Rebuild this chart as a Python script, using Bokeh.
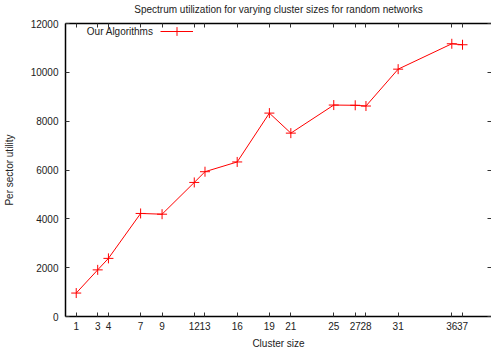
from bokeh.plotting import figure
from bokeh.models import (Range1d, LinearAxis, FixedTicker, Legend, LegendItem,
                          Label, CustomJSTickFormatter)
from bokeh.embed import file_html
from bokeh.resources import INLINE

# Spectrum utilization per sector, by cluster size
cluster_sizes = [1, 3, 4, 7, 9, 12, 13, 16, 19, 21, 25, 27, 28, 31, 36, 37]
utility = [960, 1910, 2380, 4220, 4190, 5490, 5930, 6330, 8330, 7510,
           8660, 8650, 8620, 10130, 11170, 11130]
y_ticks = [0, 2000, 4000, 6000, 8000, 10000, 12000]
chart_title = "Spectrum utilization for varying cluster sizes for random networks"

FONT = "Liberation Sans"
TXT = "#222222"
RED = "#ff0000"

p = figure(width=491, height=351, output_backend="svg", toolbar_location=None,
           x_range=Range1d(0, 39.7), y_range=Range1d(0, 12000),
           min_border_left=65, min_border_right=0, min_border_top=22,
           min_border_bottom=34,
           x_axis_label="Cluster size", y_axis_label="Per sector utility")

p.xgrid.visible = False
p.ygrid.visible = False
p.outline_line_color = None
p.background_fill_color = "white"


def style_axis(ax):
    ax.axis_line_color = "black"
    ax.axis_line_width = 1.5
    ax.major_tick_in = 4
    ax.major_tick_out = 0
    ax.major_tick_line_color = "#333333"
    ax.minor_tick_line_color = None
    ax.major_label_text_font = FONT
    ax.major_label_text_font_size = "10px"
    ax.major_label_text_color = TXT
    ax.axis_label_text_font = FONT
    ax.axis_label_text_font_size = "10px"
    ax.axis_label_text_font_style = "normal"
    ax.axis_label_text_color = TXT


xa = p.xaxis[0]
style_axis(xa)
xa.ticker = FixedTicker(ticks=cluster_sizes)
xa.major_label_standoff = 5
xa.axis_label_standoff = 5

ya = p.yaxis[0]
style_axis(ya)
ya.ticker = FixedTicker(ticks=y_ticks)
ya.major_label_standoff = 7
ya.axis_label_standoff = 13

# top border with mirrored ticks; the chart title sits above it
blank = CustomJSTickFormatter(code="return '';")

top = LinearAxis(ticker=FixedTicker(ticks=cluster_sizes), formatter=blank,
                 axis_label=chart_title)
style_axis(top)
top.major_label_standoff = 0
top.axis_label_standoff = 9
p.add_layout(top, "above")

right = LinearAxis(ticker=FixedTicker(ticks=y_ticks), formatter=blank)
style_axis(right)
right.axis_line_color = None
right.major_label_standoff = 0
p.add_layout(right, "right")

r_line = p.line(cluster_sizes, utility, line_color=RED, line_width=1)
r_pts = p.scatter(cluster_sizes, utility, marker="cross", size=10,
                  line_color=RED, line_width=1)

# key sample: line with marker, text placed to its left
legend = Legend(items=[LegendItem(label="", renderers=[r_line, r_pts])],
                location=(95, 274), orientation="vertical",
                border_line_color=None, background_fill_alpha=0,
                padding=0, margin=0, spacing=0, label_standoff=0,
                glyph_width=33, glyph_height=22, label_width=0,
                label_height=22)
p.add_layout(legend)

p.add_layout(Label(x=88, y=285, x_units="screen", y_units="screen",
                   text="Our Algorithms", text_align="right",
                   text_baseline="middle", text_font=FONT,
                   text_font_size="10px", text_color=TXT))

open("out.html", "w").write(file_html(p, INLINE))
